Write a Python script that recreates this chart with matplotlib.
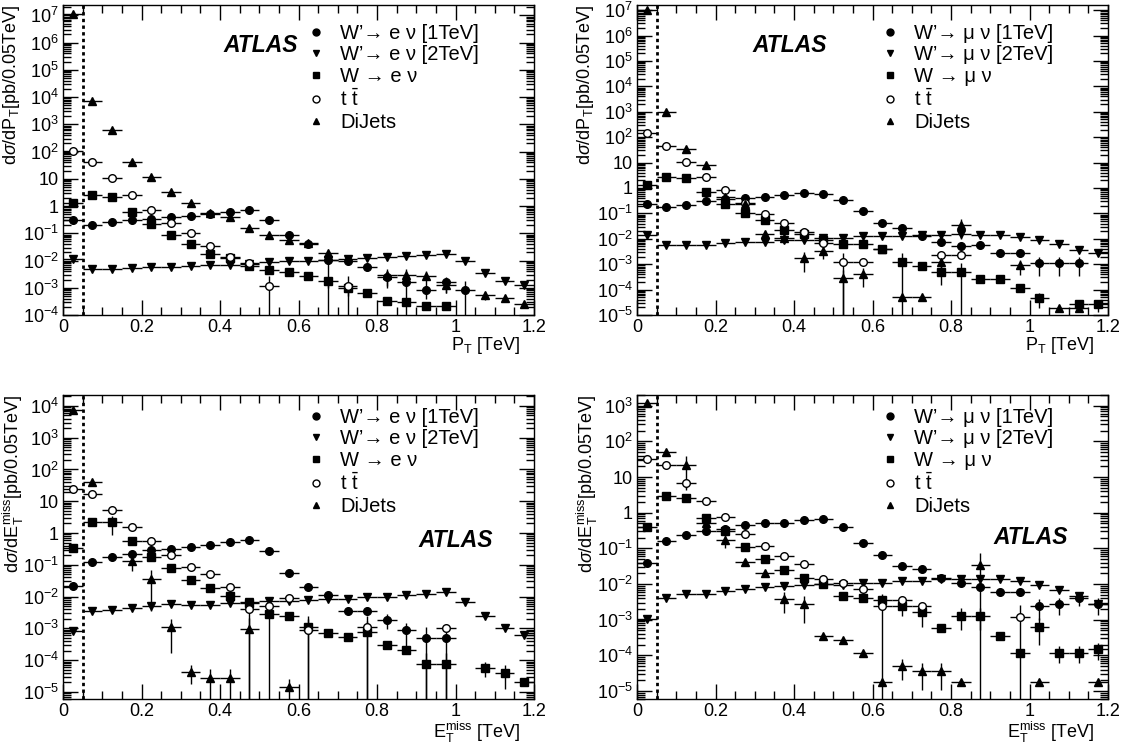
import numpy as np
import matplotlib
matplotlib.use("Agg")
import matplotlib.pyplot as plt
from matplotlib.ticker import MultipleLocator, LogLocator, FuncFormatter, NullFormatter
from matplotlib.lines import Line2D

plt.rcParams['font.family'] = ['Liberation Sans', 'DejaVu Sans']
plt.rcParams['mathtext.fontset'] = 'custom'
plt.rcParams['mathtext.rm'] = 'Liberation Sans'
plt.rcParams['mathtext.it'] = 'Liberation Sans:italic'
plt.rcParams['mathtext.bf'] = 'Liberation Sans:bold'

N = np.nan

# bin centres (TeV), bin width 0.05
BINS = [0.025, 0.075, 0.125, 0.175, 0.225, 0.275, 0.325, 0.375, 0.425, 0.475, 0.525, 0.575,
        0.625, 0.675, 0.725, 0.775, 0.825, 0.875, 0.925, 0.975, 1.025, 1.075, 1.125, 1.175]

# ---- electron channel, P_T
e_pt_w1 = [0.30, 0.20, 0.25, 0.30, 0.33, 0.40, 0.43, 0.50, 0.60, 0.70, 0.30, 0.09, 0.042, 0.0105, 0.0098,
           0.006, 0.0025, 0.0016, 8e-4, 0.0016, 8e-4, N, N, N]
e_pt_w2 = [0.011, 0.0048, 0.005, 0.0052, 0.0056, 0.006, 0.0062, 0.0066, 0.007, 0.0075, 0.0085, 0.0095,
           0.0098, 0.0102, 0.011, 0.012, 0.0135, 0.0148, 0.016, 0.018, 0.0095, 0.0035, 0.0018, 0.0013]
e_pt_w = [1.3, 2.5, 2.1, 0.6, 0.22, 0.09, 0.04, 0.018, 0.012, 0.0065, 0.0045, 0.0037, 0.0028, 0.0017,
          0.001, 6.4e-4, 3.4e-4, 3e-4, 2.1e-4, 2.1e-4, N, N, N, N]
e_pt_tt = [105, 43, 10.5, 2.5, 0.7, 0.24, 0.1, 0.035, 0.014, 0.008, 0.0012, N, N, N, 0.0012,
           N, N, N, N, N, N, N, N, N]
e_pt_dj = [1.1e7, 7e3, 6e2, 43, 12, 3.2, 1.3, 0.56, 0.4, 0.16, 0.083, 0.056, 0.043, 0.0195, N,
           N, 0.003, 0.003, 0.0026, 0.0013, N, 5.2e-4, 4.3e-4, 2.5e-4]

# ---- muon channel, P_T
m_pt_w1 = [0.23, 0.18, 0.21, 0.30, 0.37, 0.40, 0.46, 0.54, 0.63, 0.56, 0.33, 0.12, 0.043, 0.027, 0.013,
           0.0072, 0.0052, 0.0058, 0.0027, 0.0027, 0.0011, 0.0011, 0.0011, N]
m_pt_w2 = [0.0145, 0.0058, 0.0058, 0.0055, 0.0068, 0.0074, 0.0078, 0.009, 0.009, 0.0107, 0.011, 0.0125,
           0.013, 0.013, 0.0145, 0.0145, 0.0155, 0.0145, 0.014, 0.012, 0.0092, 0.0061, 0.0036, 0.0027]
m_pt_w = [1.36, 2.8, 2.4, 0.69, 0.23, 0.108, 0.053, 0.023, 0.0155, 0.0092, 0.006, 0.006, 0.004, 0.0012,
          8.3e-4, 4.9e-4, 4.9e-4, 2.6e-4, 2.6e-4, 1.2e-4, 4.7e-5, N, 2.6e-5, 2.6e-5]
m_pt_tt = [150, 47, 11, 2.8, 0.86, 0.26, 0.093, 0.043, 0.018, 0.0068, 0.0012, 0.0012, N, N, N,
           0.0024, 0.0024, N, N, N, N, N, N, N]
m_pt_dj = [1.0e7, 1.0e3, 35, 7.7, 0.46, 0.23, 0.0155, 0.011, 0.0017, 0.0033, 2.8e-4, 4.2e-4, 0.004,
           5e-5, 5e-5, 0.0012, 0.034, N, N, 9e-4, N, 1.9e-5, 1.9e-5, N]

# ---- electron channel, E_T^miss
e_met_w1 = [0.021, 0.12, 0.176, 0.22, 0.29, 0.31, 0.36, 0.41, 0.52, 0.62, 0.27, 0.055, 0.0196, 0.0115,
            0.0036, 0.0036, 0.0019, 9e-4, 5e-4, 5e-4, N, N, N, N]
e_met_w2 = [8e-4, 0.0035, 0.0038, 0.0045, 0.005, 0.0058, 0.0055, 0.0055, 0.0063, 0.007, 0.0074, 0.0074,
            0.0081, 0.0082, 0.0082, 0.0097, 0.0097, 0.0115, 0.012, 0.0137, 0.0068, 0.0024, 0.00103, 6.3e-4]
e_met_w = [0.34, 2.2, 2.2, 0.57, 0.176, 0.08, 0.034, 0.018, 0.0102, 0.0063, 0.0029, 0.0024, 0.0011,
           7.2e-4, 5.3e-4, 7.7e-4, 3e-4, 2.1e-4, 7.7e-5, 7.7e-5, N, 5.8e-5, 4e-5, 2e-5]
e_met_tt = [25, 17, 5.4, 1.6, 0.55, 0.2, 0.085, 0.05, 0.02, 0.0042, 0.005, 0.0091, 9.1e-4, N, N,
            0.0011, N, N, N, 0.001, N, N, N, N]
e_met_dj = [7.5e3, 39, N, 0.13, 0.036, 0.0011, 4.3e-5, 2.8e-5, 2.8e-5, 9.6e-4, N, 1.4e-5, N, N, N,
            N, N, N, N, N, N, N, N, N]

# ---- muon channel, E_T^miss
m_met_w1 = [0.039, 0.16, 0.24, 0.30, 0.35, 0.45, 0.50, 0.52, 0.64, 0.68, 0.39, 0.14, 0.064, 0.032,
            0.026, 0.0145, 0.0106, 0.0082, 0.006, 0.006, 0.0024, 0.0028, 0.004, 0.0028]
m_met_w2 = [1.03e-3, 0.0041, 0.0054, 0.0054, 0.0066, 0.0074, 0.0082, 0.009, 0.0095, 0.0102, 0.0095,
            0.011, 0.011, 0.0125, 0.0125, 0.0141, 0.0141, 0.0141, 0.0136, 0.0125, 0.0095, 0.0069, 0.0045, 0.0027]
m_met_w = [0.4, 2.9, 2.6, 0.73, 0.3, 0.108, 0.052, 0.025, 0.0145, 0.0099, 0.0045, 0.0041, 0.0035,
           0.0025, 0.0016, 6e-4, 0.0013, 0.0013, 3.6e-4, 1.2e-4, 6.4e-4, 1.2e-4, 1.2e-4, 1.5e-4]
m_met_tt = [33, 22, 7, 2.2, 0.76, 0.26, 0.12, 0.06, 0.036, 0.0136, 0.011, 0.0072, 0.0024, 0.0036,
            0.0024, N, N, N, N, 0.0012, N, N, N, N]
m_met_dj = [1.2e3, 52, 22, 0.53, 0.17, 0.042, 0.021, 0.0038, 0.0027, 3.6e-4, 2.7e-4, 1.2e-4, 1.75e-5,
            5e-5, 3.6e-5, 3.6e-5, 1.75e-5, 0.034, N, N, 1.75e-5, N, N, 1.75e-5]

# relative vertical errors for the points where they are visible (bin index: rel. error)
e_pt_err = {'w1': {13: 1.2, 15: 0.3, 16: 0.6, 17: 1.2, 18: 0.5, 19: 0.6, 20: 1.2},
            'w': {13: 0.4, 14: 0.5, 16: 0.3, 18: 0.3, 19: 0.3},
            'tt': {10: 1.2, 14: 1.2},
            'dj': {16: 0.6, 17: 0.6, 18: 0.6, 19: 0.5, 21: 0.3, 22: 0.3}}
m_pt_err = {'w1': {18: 0.3, 19: 0.3, 20: 0.7, 21: 0.7, 22: 0.7},
            'w': {11: 0.3, 13: 1.2, 15: 0.7, 16: 1.2, 20: 0.6, 22: 0.5, 23: 0.5},
            'tt': {10: 1.2},
            'dj': {7: 0.3, 8: 0.7, 9: 0.5, 10: 1.2, 11: 0.7, 13: 0.3, 15: 0.7, 16: 0.7, 19: 0.6}}
e_met_err = {'w1': {16: 0.5, 17: 0.7, 18: 1.2, 19: 1.2},
             'w': {2: 0.6, 10: 1.2, 12: 1.2, 15: 1.2, 18: 1.2, 19: 1.2, 21: 0.5, 22: 0.7},
             'tt': {9: 1.2, 12: 1.2, 15: 1.2},
             'dj': {3: 0.5, 4: 0.9, 5: 0.85, 6: 0.6, 7: 0.9, 8: 0.9, 9: 1.2, 11: 0.8}}
m_met_err = {'w1': {20: 0.6, 21: 0.5, 22: 0.4, 23: 0.5},
             'w': {13: 0.5, 14: 0.6, 16: 0.6, 17: 0.6, 20: 0.7, 21: 0.5, 22: 0.5, 23: 0.5},
             'tt': {2: 0.3, 12: 1.2, 19: 1.2},
             'dj': {2: 0.8, 4: 0.4, 7: 0.6, 8: 0.7, 13: 0.6, 14: 0.7, 15: 0.7, 17: 1.2}}

STYLES = {'w1': ('o', 'k'), 'w2': ('v', 'k'), 'w': ('s', 'k'), 'tt': ('o', 'white'), 'dj': ('^', 'k')}


def ytick_fmt(v, pos):
    e = int(round(np.log10(v)))
    if e == 0:
        return "1"
    if e == 1:
        return "10"
    return r"$10^{%d}$" % e


def draw_series(ax, y, errs, key):
    marker, face = STYLES[key]
    y = np.array(y, dtype=float)
    ok = ~np.isnan(y)
    x = np.array(BINS)[ok]
    rel = np.array([errs.get(i, 0.0) for i in range(len(BINS))])[ok]
    yv = y[ok]
    ax.errorbar(x, yv, xerr=0.025, yerr=yv * rel, fmt=marker, ms=5.5, mfc=face, mec='k', mew=1,
                ecolor='k', elinewidth=1.0, capsize=0, zorder=3)


def panel(ax, data, errs, ylim, lep, xlabel, ylabel, atlas_xy, leg_y, xlab_y, ylab_x):
    for key in ['w1', 'w2', 'w', 'tt', 'dj']:
        draw_series(ax, data[key], errs.get(key, {}), key)
    ax.axvline(0.05, color='k', ls=(0, (1.2, 1.2)), lw=2, zorder=2)
    ax.set_xlim(0, 1.2)
    ax.set_yscale('log')
    ax.set_ylim(*ylim)
    ax.xaxis.set_major_locator(MultipleLocator(0.2))
    ax.xaxis.set_minor_locator(MultipleLocator(0.05))
    ax.xaxis.set_major_formatter(FuncFormatter(lambda v, p: f"{v:g}"))
    ax.yaxis.set_major_locator(LogLocator(base=10, numticks=30))
    ax.yaxis.set_minor_locator(LogLocator(base=10, subs=np.arange(2, 10), numticks=30))
    ax.yaxis.set_major_formatter(FuncFormatter(ytick_fmt))
    ax.yaxis.set_minor_formatter(NullFormatter())
    ax.tick_params(which='both', direction='in', top=True, right=True, width=1)
    ax.tick_params(which='major', length=11, labelsize=13, pad=3)
    ax.tick_params(which='minor', length=5.5)
    for s in ax.spines.values():
        s.set_linewidth(1.0)
    ax.set_ylabel(ylabel, fontsize=13, loc='top')
    ax.yaxis.set_label_coords(ylab_x, 1.0)
    ax.set_xlabel(xlabel, fontsize=13, loc='right')
    ax.xaxis.set_label_coords(0.97, xlab_y)

    labels = [f"W\u2019\u2192 {lep} \u03bd [1TeV]", f"W\u2019\u2192 {lep} \u03bd [2TeV]",
              f"W \u2192 {lep} \u03bd", r"t $\mathrm{\bar{t}}$", "DiJets"]
    handles = [Line2D([], [], ls='none', marker=STYLES[k][0], mfc=STYLES[k][1], mec='k', ms=5)
               for k in ['w1', 'w2', 'w', 'tt', 'dj']]
    ax.legend(handles, labels, loc='upper left', bbox_to_anchor=(0.512, leg_y), frameon=False,
              fontsize=14.5, handlelength=1.2, handletextpad=0.6, labelspacing=0.13, borderaxespad=0,
              borderpad=0)
    ax.text(atlas_xy[0], atlas_xy[1], "ATLAS", transform=ax.transAxes, fontsize=16.5,
            fontweight='bold', fontstyle='italic', va='center', ha='left')


fig = plt.figure(figsize=(11.26, 7.47), dpi=100)
W, H = 1126, 747
ax_tl = fig.add_axes([63 / W, 1 - 315 / H, 471 / W, 310 / H])
ax_tr = fig.add_axes([637 / W, 1 - 315 / H, 471 / W, 310 / H])
ax_bl = fig.add_axes([63 / W, 1 - 699 / H, 471 / W, 304 / H])
ax_br = fig.add_axes([637 / W, 1 - 699 / H, 471 / W, 304 / H])

pt_lab = r"P$_{\mathrm{T}}$ [TeV]"
met_lab = r"E$_{\mathrm{T}}^{\mathrm{miss}}$ [TeV]"
ypt = r"d$\sigma$/dP$_{\mathrm{T}}$[pb/0.05TeV]"
ymet = r"d$\sigma$/dE$_{\mathrm{T}}^{\mathrm{miss}}$[pb/0.05TeV]"

panel(ax_tl, dict(w1=e_pt_w1, w2=e_pt_w2, w=e_pt_w, tt=e_pt_tt, dj=e_pt_dj), e_pt_err,
      (1e-4, 2.4e7), 'e', pt_lab, ypt, (0.34, 0.87), 0.94, -0.066, -0.086)
panel(ax_tr, dict(w1=m_pt_w1, w2=m_pt_w2, w=m_pt_w, tt=m_pt_tt, dj=m_pt_dj), m_pt_err,
      (1e-5, 1.6e7), '\u03bc', pt_lab, ypt, (0.245, 0.87), 0.94, -0.066, -0.086)
panel(ax_bl, dict(w1=e_met_w1, w2=e_met_w2, w=e_met_w, tt=e_met_tt, dj=e_met_dj), e_met_err,
      (6e-6, 2.2e4), 'e', met_lab, ymet, (0.755, 0.52), 0.958, -0.068, -0.079)
panel(ax_br, dict(w1=m_met_w1, w2=m_met_w2, w=m_met_w, tt=m_met_tt, dj=m_met_dj), m_met_err,
      (6e-6, 2e3), '\u03bc', met_lab, ymet, (0.757, 0.53), 0.958, -0.068, -0.079)

fig.savefig("out.png", dpi=100)
